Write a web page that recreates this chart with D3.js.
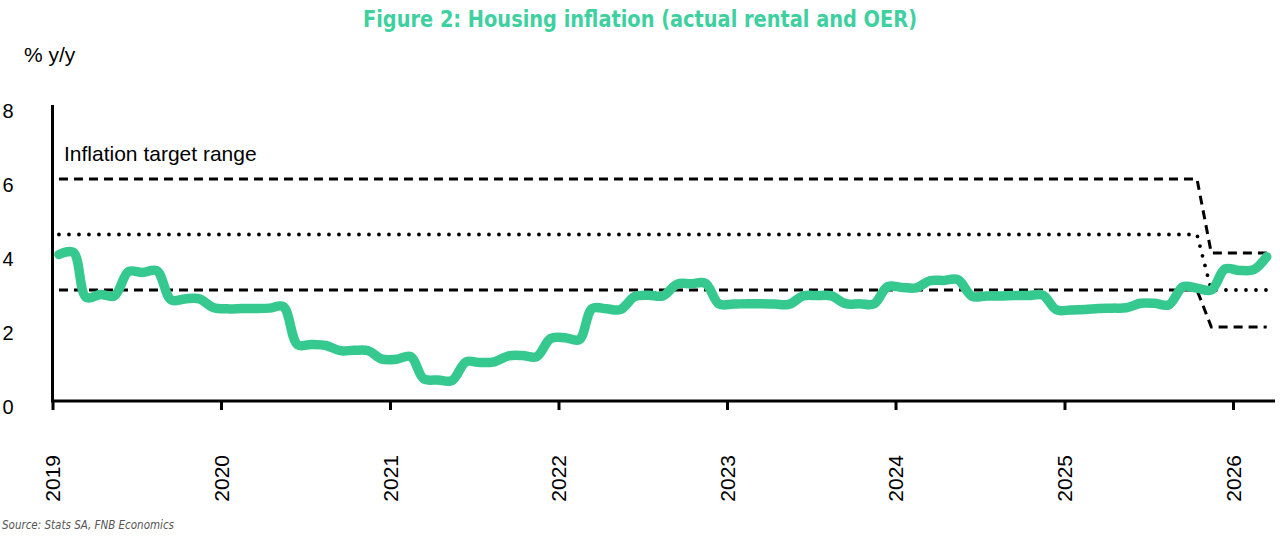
<!DOCTYPE html>
<html>
  <head>
    <title>Housing inflation (actual rental and OER)</title>
    <script src="https://d3js.org/d3.v7.min.js"></script>
    <style>
      body { margin: 0; background: #fff; }
      text { font-family: "Liberation Sans", Arial, sans-serif; }
    </style>
  </head>
  <body>
    <svg width="1280" height="536"></svg>
    <script>
      // monthly, Jan 2019 - Mar 2026
      const startMonth = "2019-01";
      const housing = [
        3.96, 4.02, 2.80, 2.88, 2.84, 3.50, 3.47, 3.52, 2.73, 2.76, 2.76, 2.53,
        2.49, 2.50, 2.50, 2.51, 2.55, 1.52, 1.53, 1.50, 1.36, 1.37, 1.36, 1.13,
        1.13, 1.20, 0.60, 0.57, 0.55, 1.06, 1.04, 1.06, 1.22, 1.23, 1.20, 1.69,
        1.71, 1.66, 2.50, 2.49, 2.47, 2.82, 2.86, 2.84, 3.16, 3.17, 3.18, 2.62,
        2.62, 2.63, 2.63, 2.62, 2.61, 2.84, 2.85, 2.84, 2.63, 2.63, 2.62, 3.09,
        3.07, 3.06, 3.25, 3.26, 3.28, 2.83, 2.84, 2.84, 2.85, 2.85, 2.86, 2.46,
        2.46, 2.47, 2.50, 2.51, 2.52, 2.64, 2.64, 2.60, 3.09, 3.05, 3.00, 3.57,
        3.53, 3.55, 3.90
      ];

      // inflation target range breakpoints
      const targetMonths = ["2019-01", "2025-10", "2025-11", "2026-03"];
      const targetUpper = [6, 6, 4, 4];
      const targetMid = [4.5, 4.5, 3, 3];
      const targetLower = [3, 3, 2, 2];

      const yTicks = [0, 2, 4, 6, 8];
      const yearTicks = [2019, 2020, 2021, 2022, 2023, 2024, 2025, 2026];

      const green = "#35c98f";
      const svg = d3.select("svg");

      const parseMonth = d3.timeParse("%Y-%m");
      const midMonth = m => d3.timeDay.offset(parseMonth(m), 14);

      const lineData = housing.map((v, i) => ({
        date: d3.timeDay.offset(d3.timeMonth.offset(parseMonth(startMonth), i), 14),
        value: v
      }));

      const x = d3.scaleTime()
        .domain([new Date(2019, 0, 1), new Date(2026, 0, 1)])
        .range([52.5, 1233]);
      const y = d3.scaleLinear().domain([0, 8]).range([401, 105]);

      // title
      svg.append("text")
        .attr("x", 640).attr("y", 27)
        .attr("text-anchor", "middle")
        .attr("textLength", 554).attr("lengthAdjust", "spacingAndGlyphs")
        .style("font-family", "'Liberation Sans Narrow', 'DejaVu Sans Condensed', sans-serif")
        .style("font-weight", "bold")
        .style("font-size", "23px")
        .attr("fill", "#3fd09f")
        .text("Figure 2: Housing inflation (actual rental and OER)");

      svg.append("text")
        .attr("x", 24).attr("y", 62)
        .style("font-size", "21px")
        .text("% y/y");

      // y axis
      const yAxis = svg.append("g")
        .attr("transform", "translate(52.5,0)")
        .call(d3.axisLeft(y).tickValues(yTicks).tickSize(0).tickPadding(39));
      yAxis.select(".domain").remove();
      yAxis.selectAll("text")
        .attr("dy", "0.6em")
        .style("font-size", "20px").attr("fill", "#000")
        .style("font-family", "'Liberation Sans', Arial, sans-serif");
      svg.append("line")
        .attr("x1", 52.5).attr("x2", 52.5)
        .attr("y1", y(8)).attr("y2", y(0) + 1)
        .attr("stroke", "#000").attr("stroke-width", 3);

      // x axis
      const xAxis = svg.append("g")
        .attr("transform", `translate(0,${y(0)})`)
        .call(d3.axisBottom(x)
          .tickValues(yearTicks.map(yr => new Date(yr, 0, 1)))
          .tickSize(9)
          .tickFormat(d3.timeFormat("%Y")));
      xAxis.select(".domain").remove();
      xAxis.selectAll(".tick line").attr("stroke", "#000").attr("stroke-width", 3);
      xAxis.selectAll("text")
        .attr("transform", "rotate(-90)")
        .attr("text-anchor", "end")
        .attr("x", -54).attr("y", 0).attr("dy", "0.35em")
        .style("font-size", "21px").attr("fill", "#000")
        .style("font-family", "'Liberation Sans', Arial, sans-serif");
      svg.append("line")
        .attr("x1", 51).attr("x2", 1275)
        .attr("y1", y(0)).attr("y2", y(0))
        .attr("stroke", "#000").attr("stroke-width", 3);

      // target range
      const rangeLine = d3.line()
        .x(d => x(d.date))
        .y(d => y(d.value));
      const rangeSeries = arr => targetMonths.map((m, i) => ({ date: midMonth(m), value: arr[i] }));

      [targetUpper, targetLower].forEach(arr => {
        svg.append("path")
          .datum(rangeSeries(arr))
          .attr("fill", "none")
          .attr("stroke", "#000")
          .attr("stroke-width", 3)
          .attr("stroke-dasharray", "9,6")
          .attr("d", rangeLine);
      });
      svg.append("path")
        .datum(rangeSeries(targetMid))
        .attr("fill", "none")
        .attr("stroke", "#000")
        .attr("stroke-width", 3.8)
        .attr("stroke-linecap", "round")
        .attr("stroke-dasharray", "0,10")
        .attr("d", rangeLine);

      svg.append("text")
        .attr("x", 64).attr("y", 161)
        .style("font-size", "21px")
        .text("Inflation target range");

      // housing inflation
      svg.append("path")
        .datum(lineData)
        .attr("fill", "none")
        .attr("stroke", green)
        .attr("stroke-width", 9.5)
        .attr("stroke-linecap", "round")
        .attr("stroke-linejoin", "round")
        .attr("d", d3.line()
          .curve(d3.curveCatmullRom.alpha(0.5))
          .x(d => x(d.date))
          .y(d => y(d.value)));

      // source
      svg.append("text")
        .attr("x", 2).attr("y", 529)
        .attr("textLength", 172).attr("lengthAdjust", "spacingAndGlyphs")
        .style("font-family", "'Liberation Sans Narrow', 'DejaVu Sans Condensed', sans-serif")
        .style("font-style", "italic")
        .style("font-size", "13px")
        .attr("fill", "#555")
        .text("Source: Stats SA, FNB Economics");
    </script>
  </body>
</html>
